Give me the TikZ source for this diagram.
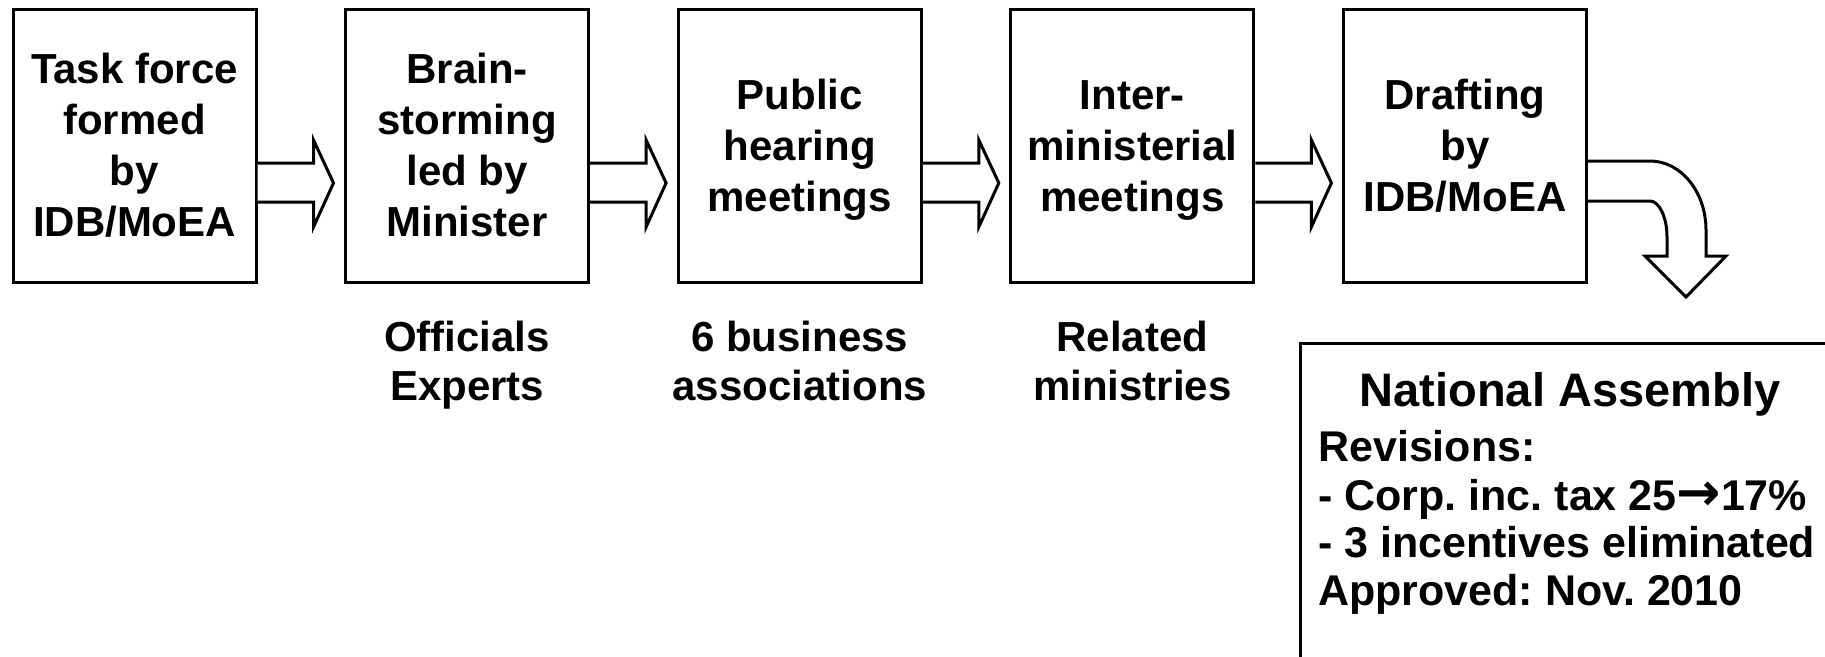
\documentclass[tikz,border=0pt]{standalone}
\usepackage{fontspec}
\setmainfont{Liberation Sans}
\newfontfamily\arrfont{DejaVu Sans}
\usetikzlibrary{calc}
\newcommand\Ln[1]{\rule[-1pt]{0pt}{31.6pt}\smash{#1}}
\begin{document}
\frenchspacing
\begin{tikzpicture}[x=1pt,y=-1pt,
  stage/.style={draw, line width=3pt, minimum width=243pt, minimum height=273pt, inner sep=0pt, align=center, font=\fontsize{42}{51}\selectfont\bfseries\frenchspacing},
  lbl/.style={align=center, inner sep=0pt, font=\fontsize{42}{49}\selectfont\bfseries\frenchspacing},
  revline/.style={anchor=base west, inner sep=0pt, font=\fontsize{43}{48}\selectfont\bfseries\frenchspacing},
  blockarrow/.style={draw, line width=3pt, fill=white, line join=miter}]
\clip (0,0) rectangle (1825,656);
\fill[white] (0,0) rectangle (1825,656);

\node[stage] (b1) at (134.5,145.5) {\Ln{Task force}\\\Ln{formed}\\\Ln{by}\\\Ln{IDB/MoEA}};
\node[stage] (b2) at (467.1,145.5) {\Ln{Brain-}\\\Ln{storming}\\\Ln{led by}\\\Ln{Minister}};
\node[stage] (b3) at (799.8,145.5) {\Ln{Public}\\\Ln{hearing}\\\Ln{meetings}};
\node[stage] (b4) at (1132.4,145.5) {\Ln{Inter-}\\\Ln{ministerial}\\\Ln{meetings}};
\node[stage] (b5) at (1465,145.5) {\Ln{Drafting}\\\Ln{by}\\\Ln{IDB/MoEA}};

\node[lbl] (l2) at ($(b2.south)+(0,78)$) {\Ln{Officials}\\\Ln{Experts}};
\node[lbl] (l3) at ($(b3.south)+(0,78)$) {\Ln{6 business}\\\Ln{associations}};
\node[lbl] (l4) at ($(b4.south)+(0,78)$) {\Ln{Related}\\\Ln{ministries}};

\foreach \a in {b1,b2,b3,b4}{
  \draw[blockarrow] ($(\a.east)+(0,17.5)$) -- ($(\a.east)+(56,17.5)$) -- ($(\a.east)+(56,-5.5)$)
    -- ($(\a.east)+(76,37.5)$) -- ($(\a.east)+(56,81.5)$) -- ($(\a.east)+(56,56.5)$) -- ($(\a.east)+(0,56.5)$);
}

\draw[blockarrow] ($(b5.east)+(0,15.5)$) -- ($(b5.east)+(62,15.5)$)
  .. controls ($(b5.east)+(93,15.5)$) and ($(b5.east)+(118,46.5)$) .. ($(b5.east)+(118,84.5)$)
  -- ($(b5.east)+(118,110.5)$) -- ($(b5.east)+(138,110.5)$) -- ($(b5.east)+(98,151.5)$)
  -- ($(b5.east)+(57,110.5)$) -- ($(b5.east)+(79,110.5)$) -- ($(b5.east)+(79,91.5)$)
  .. controls ($(b5.east)+(79,71.5)$) and ($(b5.east)+(71,55.5)$) .. ($(b5.east)+(62,55.5)$)
  -- ($(b5.east)+(0,55.5)$);

\node[draw, line width=3pt, anchor=north west, minimum width=560pt, minimum height=360pt, inner sep=0pt] (na) at (1299,342) {};
\node[anchor=base, inner sep=0pt, font=\fontsize{47}{52}\selectfont\bfseries] (nat) at (1570,406) {National Assembly};
\node[revline] (r1) at (1318,461) {Revisions:};
\node[revline] (r2) at (1318,510) {- Corp. inc. tax 25{\arrfont\bfseries\fontsize{53}{53}\selectfont →}17\%};
\node[revline] (r3) at (1318,557) {- 3 incentives eliminated};
\node[revline] (r4) at (1318,605) {Approved: Nov. 2010};
\end{tikzpicture}
\end{document}
